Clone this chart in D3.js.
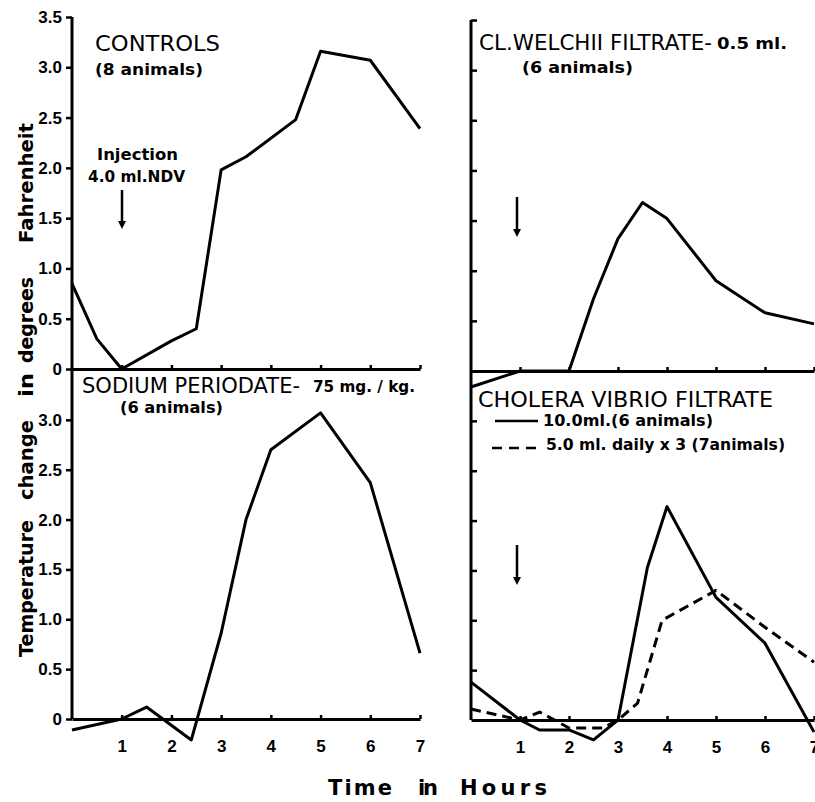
<!DOCTYPE html>
<html>
<head>
<meta charset="utf-8">
<script src="https://cdn.jsdelivr.net/npm/d3@7"></script>
<style>
  body { margin: 0; background: #fff; }
  svg { display: block; font-family: "DejaVu Sans", sans-serif; }
</style>
</head>
<body>
<svg id="canvas" width="815" height="802"></svg>
<script>
// values (hours after injection, change in deg F)
let controlsHours = [0, 0.5, 1, 2, 2.5, 3, 3.5, 4.5, 5, 6, 7]
let controlsTemp = [0.85, 0.3, 0, 0.28, 0.4, 1.98, 2.11, 2.48, 3.16, 3.07, 2.39]

let welchiiHours = [0, 1, 2, 2.5, 3, 3.5, 4, 5, 6, 7]
let welchiiTemp = [-0.16, 0, 0, 0.72, 1.32, 1.68, 1.52, 0.9, 0.58, 0.47]

let periodateHours = [0, 1, 1.5, 2.4, 3, 3.5, 4, 5, 6, 7]
let periodateTemp = [-0.11, 0, 0.12, -0.21, 0.86, 2.0, 2.7, 3.07, 2.37, 0.66]

let choleraHours = [0, 1, 1.4, 2, 2.5, 3, 3.6, 4, 5, 6, 7]
let choleraTemp = [0.38, 0, -0.1, -0.1, -0.2, 0, 1.53, 2.14, 1.23, 0.77, -0.12]

let choleraDailyHours = [0, 1, 1.4, 2, 2.7, 3, 3.4, 3.9, 5, 6, 7]
let choleraDailyTemp = [0.11, 0, 0.08, -0.08, -0.08, 0, 0.17, 1.0, 1.3, 0.93, 0.58]

let hourTicks = [1, 2, 3, 4, 5, 6, 7]
let topTempTicks = [0, 0.5, 1.0, 1.5, 2.0, 2.5, 3.0, 3.5]
let bottomTempTicks = [0, 0.5, 1.0, 1.5, 2.0, 2.5, 3.0]

let canvas = d3.select('#canvas')

let xLeft = d3.scaleLinear().domain([0, 7]).range([72, 420])
let xRight = d3.scaleLinear().domain([0, 7]).range([471, 814])
let yTopLeft = d3.scaleLinear().domain([0, 3.5]).range([369, 17])
let yBottomLeft = d3.scaleLinear().domain([0, 3.5]).range([719, 370])
let yTopRight = d3.scaleLinear().domain([0, 3.5]).range([371, 20])
let yBottomRight = d3.scaleLinear().domain([0, 3.5]).range([720, 371])

let fmt = (d) => d === 0 ? '0' : d3.format('.1f')(d)

let styleAxis = (g) => {
    g.select('.domain').attr('stroke-width', 3)
    g.selectAll('.tick line').attr('stroke-width', 2.5)
    g.selectAll('.tick text')
        .attr('fill', '#000')
        .style('font-family', '"Liberation Sans", sans-serif')
        .style('font-weight', 'bold')
        .style('font-size', '17px')
}

// vertical axis lines
canvas.append('line')
    .attr('x1', 72).attr('x2', 72)
    .attr('y1', yTopLeft(3.5)).attr('y2', yBottomLeft(0))
    .attr('stroke', '#000').attr('stroke-width', 3)
canvas.append('line')
    .attr('x1', 471).attr('x2', 471)
    .attr('y1', yTopRight(3.5)).attr('y2', yBottomRight(0))
    .attr('stroke', '#000').attr('stroke-width', 3)

// y ticks
canvas.append('g')
    .attr('transform', 'translate(72,0)')
    .call(d3.axisLeft(yTopLeft).tickValues(topTempTicks).tickSize(6).tickPadding(4).tickFormat(fmt))
    .call(g => g.select('.domain').remove())
    .call(styleAxis)
canvas.append('g')
    .attr('transform', 'translate(72,0)')
    .call(d3.axisLeft(yBottomLeft).tickValues(bottomTempTicks).tickSize(6).tickPadding(4).tickFormat(fmt))
    .call(g => g.select('.domain').remove())
    .call(styleAxis)
canvas.append('g')
    .attr('transform', 'translate(471,0)')
    .call(d3.axisRight(yTopRight).tickValues(topTempTicks.slice(1)).tickSize(6).tickFormat(''))
    .call(g => g.select('.domain').remove())
    .call(styleAxis)
canvas.append('g')
    .attr('transform', 'translate(471,0)')
    .call(d3.axisRight(yBottomRight).tickValues(bottomTempTicks.slice(1)).tickSize(6).tickFormat(''))
    .call(g => g.select('.domain').remove())
    .call(styleAxis)

// x axes (ticks point up, labels only under the lower panels)
let xAxis = (scale, y, labels) => {
    canvas.append('g')
        .attr('transform', 'translate(0,' + y + ')')
        .call(d3.axisBottom(scale).tickValues(hourTicks).tickSize(-4).tickSizeOuter(0)
            .tickPadding(21).tickFormat(labels ? d3.format('d') : ''))
        .call(styleAxis)
}
xAxis(xLeft, yTopLeft(0), false)
xAxis(xRight, yTopRight(0), false)
xAxis(xLeft, yBottomLeft(0), true)
xAxis(xRight, yBottomRight(0), true)

// curves
let drawCurve = (xs, ys, x, y, dash) => {
    let line = d3.line()
        .x((d) => x(d[0]))
        .y((d) => y(d[1]))
    canvas.append('path')
        .datum(d3.zip(xs, ys))
        .attr('d', line)
        .attr('fill', 'none')
        .attr('stroke', '#000')
        .attr('stroke-width', 3)
        .attr('stroke-linejoin', 'round')
        .attr('stroke-dasharray', dash ? '10,6' : null)
}
drawCurve(controlsHours, controlsTemp, xLeft, yTopLeft, false)
drawCurve(welchiiHours, welchiiTemp, xRight, yTopRight, false)
drawCurve(periodateHours, periodateTemp, xLeft, yBottomLeft, false)
drawCurve(choleraHours, choleraTemp, xRight, yBottomRight, false)
drawCurve(choleraDailyHours, choleraDailyTemp, xRight, yBottomRight, true)

// injection arrows
let arrow = (x, y1, y2) => {
    canvas.append('line')
        .attr('x1', x).attr('x2', x).attr('y1', y1).attr('y2', y2 - 4)
        .attr('stroke', '#000').attr('stroke-width', 2.5)
    canvas.append('path')
        .attr('d', 'M' + (x - 4) + ',' + (y2 - 8) + 'L' + (x + 4) + ',' + (y2 - 8) + 'L' + x + ',' + y2 + 'Z')
        .attr('fill', '#000')
}
arrow(122, 190, 229)
arrow(517, 197, 237)
arrow(517, 545, 585)

// texts
let label = (t, x, y, size, weight, len) => {
    let el = canvas.append('text')
        .text(t)
        .attr('x', x)
        .attr('y', y)
        .attr('fill', '#000')
        .style('font-size', size + 'px')
        .style('font-weight', weight)
    if (len) {
        el.attr('textLength', len).attr('lengthAdjust', 'spacingAndGlyphs')
    }
    return el
}

label('CONTROLS', 95, 51, 22, 'normal', 125)
label('(8 animals)', 95, 75, 16, 'bold', 108)
label('Injection', 97, 160, 16, 'bold', 81)
label('4.0 ml.NDV', 88, 182, 16, 'bold', 97)

label('CL.WELCHII FILTRATE-', 479, 50, 22, 'normal', 233)
label('0.5 ml.', 717, 49, 15, 'bold', 70)
label('(6 animals)', 522, 73, 16, 'bold', 111)

label('SODIUM PERIODATE-', 82, 393, 22, 'normal', 218)
label('75 mg. / kg.', 313, 392, 15, 'bold', 102)
label('(6 animals)', 120, 413, 16, 'bold', 103)

label('CHOLERA VIBRIO FILTRATE', 478, 407, 21, 'normal', 295)
label('10.0ml.(6 animals)', 543, 426, 16, 'bold', 170)
label('5.0 ml. daily x 3 (7animals)', 546, 450, 16, 'bold', 239)

canvas.append('line')
    .attr('x1', 495).attr('x2', 538).attr('y1', 421).attr('y2', 421)
    .attr('stroke', '#000').attr('stroke-width', 2.5)
canvas.append('line')
    .attr('x1', 492).attr('x2', 537).attr('y1', 448).attr('y2', 448)
    .attr('stroke', '#000').attr('stroke-width', 2.5)
    .attr('stroke-dasharray', '10,7')

// x title, word by word with wide letter spacing
label('Time', 328, 795, 21, 'bold').attr('textLength', 64).attr('lengthAdjust', 'spacing')
label('in', 418, 795, 21, 'bold').attr('textLength', 20).attr('lengthAdjust', 'spacing')
label('Hours', 460, 795, 21, 'bold').attr('textLength', 87).attr('lengthAdjust', 'spacing')

// y title, rotated, word by word
let yWords = [['Temperature', 657, 137], ['change', 500, 80], ['in', 397, 24], ['degrees', 363, 86], ['Fahrenheit', 243, 120]]
yWords.forEach((w) => {
    label(w[0], 0, 0, 19, 'bold').attr('textLength', w[2]).attr('lengthAdjust', 'spacingAndGlyphs')
        .attr('transform', 'translate(33,' + w[1] + ') rotate(-90)')
})
</script>
</body>
</html>
